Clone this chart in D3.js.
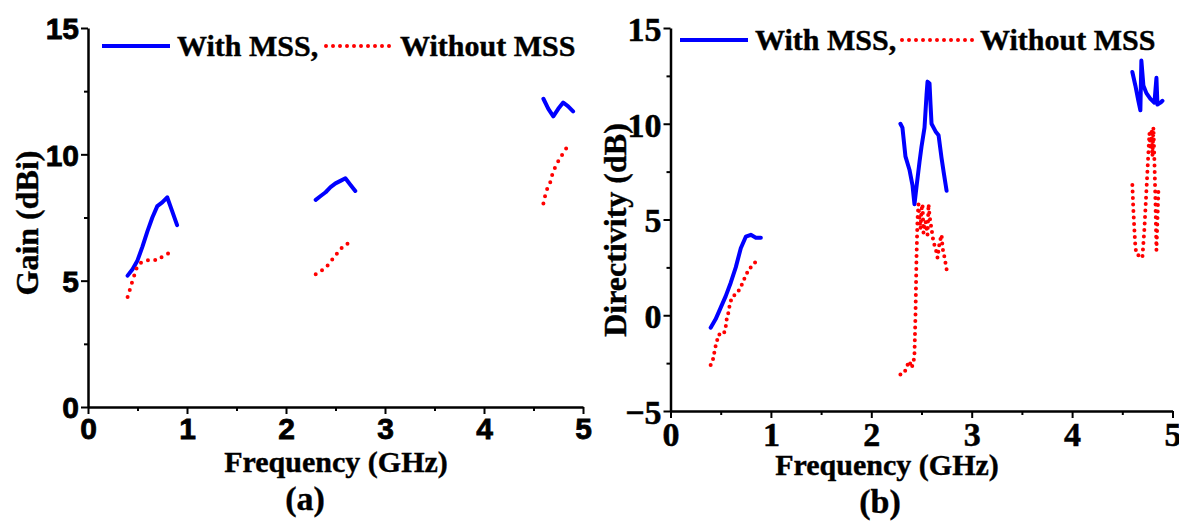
<!DOCTYPE html>
<html><head><meta charset="utf-8">
<script src="https://cdn.jsdelivr.net/npm/d3@7"></script>
<style>
html,body{margin:0;padding:0;background:#fff;}
svg{display:block;}
</style></head>
<body>
<svg id="chart" width="1179" height="522"></svg>
<script>
// ---------------- DATA ----------------
const freqTicks = [0, 1, 2, 3, 4, 5];
const freqMinorTicks = [0.5, 1.5, 2.5, 3.5, 4.5];
const gainTicks = [0, 5, 10, 15];
const gainMinorTicks = [2.5, 7.5, 12.5];
const dirTicks = [-5, 0, 5, 10, 15];
const dirMinorTicks = [-2.5, 2.5, 7.5, 12.5];
const legendLabels = ["With MSS,", "Without MSS"];
const panelLabels = ["(a)", "(b)"];

// Gain (dBi) with MSS — null separates bands
const gainWithFreq = [0.4,0.45,0.5,0.55,0.6,0.65,0.7,0.75,0.8,0.85,0.9, null,
  2.3,2.35,2.4,2.45,2.5,2.55,2.6,2.65,2.7, null,
  4.6,4.65,4.7,4.75,4.8,4.85,4.9];
const gainWithVals = [5.2,5.45,5.8,6.35,6.95,7.5,7.95,8.1,8.3,7.75,7.2, null,
  8.2,8.35,8.5,8.7,8.85,8.95,9.05,8.8,8.55, null,
  12.2,11.8,11.5,11.8,12.05,11.9,11.7];

// Gain (dBi) without MSS
const gainWithoutFreq = [0.4,0.45,0.5,0.55,0.6,0.65,0.7,0.75,0.8,0.85, null,
  2.3,2.4,2.45,2.5,2.55,2.6,2.67, null,
  4.6,4.62,4.64,4.67,4.69,4.72,4.76,4.8,4.85];
const gainWithoutVals = [4.35,5.0,5.6,5.75,5.8,5.85,5.8,5.95,6.05,6.2, null,
  5.25,5.5,5.75,6.0,6.25,6.45,6.5, null,
  8.05,8.4,8.65,8.9,9.2,9.5,9.8,10.05,10.35];

// Directivity (dB) with MSS
const dirWithFreq = [0.4,0.45,0.5,0.55,0.6,0.65,0.7,0.75,0.8,0.85,0.9, null,
  2.29,2.31,2.34,2.38,2.41,2.43,2.45,2.48,2.5,2.53,2.55,2.56,2.58,2.59,2.6,2.64,2.67,2.7,2.72,2.75, null,
  4.6,4.63,4.66,4.68,4.69,4.71,4.74,4.78,4.82,4.84,4.85,4.88,4.9];
const dirWithVals = [-0.65,-0.2,0.4,1.0,1.7,2.5,3.5,4.1,4.2,4.05,4.05, null,
  10.0,9.8,8.3,7.6,6.8,5.8,6.7,8.0,8.8,9.8,11.5,12.2,12.1,11.0,10.0,9.6,9.4,8.2,7.5,6.5, null,
  12.7,12.0,11.2,10.7,13.3,12.0,11.6,11.3,11.1,12.4,11.0,11.1,11.2];

// Directivity (dB) without MSS
const dirWithoutFreq = [0.4,0.43,0.44,0.46,0.48,0.53,0.55,0.56,0.58,0.59,0.61,0.68,0.72,0.75,0.79,0.86, null,
  2.29,2.33,2.36,2.38,2.4,2.42,2.43,2.44,2.45,2.46,2.47,2.48,2.49,2.5,2.51,2.52,2.54,2.56,2.57,2.58,2.6,2.62,2.64,2.66,2.68,2.7,2.71,2.73,2.75, null,
  4.6,4.61,4.62,4.63,4.64,4.7,4.72,4.74,4.76,4.77,4.78,4.79,4.8,4.81,4.82,4.83,4.84,4.85,4.86,4.88];
const dirWithoutVals = [-2.6,-2.2,-1.8,-1.4,-1.0,-1.0,-0.6,-0.2,0.2,0.55,0.9,1.3,1.7,2.1,2.45,2.85, null,
  -3.1,-3.0,-2.6,-2.4,-2.75,-2.5,-2.0,0,3.0,5.0,5.8,5.0,4.5,5.5,5.8,4.3,4.9,4.2,5.8,5.2,4.5,3.8,3.5,3.0,3.8,4.2,3.5,3.0,2.4, null,
  6.8,5.5,4.5,3.6,3.2,3.0,4.5,6.5,8.5,9.5,8.8,9.7,8.3,9.8,8.0,6.0,3.4,5.0,6.6,6.5];

// ---------------- DRAW ----------------
const svg = d3.select("#chart");
const BLUE = "#0000ff", RED = "#ff0000";
const serif = "'Liberation Serif','Times New Roman',serif";
const sans = "'Liberation Sans',Arial,sans-serif";

function zip(fx, fy){ return fx.map((f,i)=>({f:f, v:fy[i]})); }

function boldText(sel, family, size, extra){
  sel.style("font-family",family).style("font-weight","bold").style("font-size",size+"px")
     .attr("fill","#000");
  if (extra) sel.attr("stroke","#000").attr("stroke-width",extra);
  return sel;
}

function panel(cfg){
  const g = svg.append("g");
  const x = d3.scaleLinear().domain([0,5]).range(cfg.xr);
  const y = d3.scaleLinear().domain(cfg.yd).range(cfg.yr);

  // minor ticks
  g.append("g").attr("transform",`translate(0,${cfg.yr[0]})`)
    .call(d3.axisBottom(x).tickValues(freqMinorTicks).tickSize(4).tickSizeOuter(0).tickFormat(""))
    .call(a=>a.select(".domain").remove())
    .selectAll("line").attr("stroke","#000").attr("stroke-width",2);
  g.append("g").attr("transform",`translate(${cfg.xr[0]},0)`)
    .call(d3.axisLeft(y).tickValues(cfg.minor).tickSize(4).tickSizeOuter(0).tickFormat(""))
    .call(a=>a.select(".domain").remove())
    .selectAll("line").attr("stroke","#000").attr("stroke-width",2);

  const xa = g.append("g").attr("transform",`translate(0,${cfg.yr[0]})`)
    .call(d3.axisBottom(x).tickValues(freqTicks).tickSize(7).tickSizeOuter(0).tickPadding(cfg.xPad).tickFormat(d3.format("d")));
  const ya = g.append("g").attr("transform",`translate(${cfg.xr[0]},0)`)
    .call(d3.axisLeft(y).tickValues(cfg.ticks).tickSize(7).tickSizeOuter(0).tickPadding(2).tickFormat(d3.format("d")));
  [xa,ya].forEach(a=>{
    a.select(".domain").attr("stroke","#000").attr("stroke-width",2.5);
    a.selectAll(".tick line").attr("stroke","#000").attr("stroke-width",2);
    boldText(a.selectAll("text"), cfg.tickFont, cfg.tickSize, cfg.tickStroke);
  });
  ya.selectAll("text").attr("dy","0.36em");

  const line = d3.line().defined(d=>d.f!==null && d.v!==null).x(d=>x(d.f)).y(d=>y(d.v));
  g.append("path").datum(zip(cfg.withF,cfg.withV)).attr("d",line)
    .attr("fill","none").attr("stroke",BLUE).attr("stroke-width",4)
    .attr("stroke-linejoin","round").attr("stroke-linecap","round");
  g.append("path").datum(zip(cfg.woF,cfg.woV)).attr("d",line)
    .attr("fill","none").attr("stroke",RED).attr("stroke-width",4)
    .attr("stroke-dasharray",`0 ${cfg.dotGap}`).attr("stroke-linecap","round");

  // legend
  const L = cfg.legend;
  g.append("line").attr("x1",L.x1).attr("x2",L.x2).attr("y1",L.y).attr("y2",L.y)
    .attr("stroke",BLUE).attr("stroke-width",4);
  boldText(g.append("text").attr("x",L.t1).attr("y",L.y+10).text(legendLabels[0]), serif, 30, 0.4);
  g.append("line").attr("x1",L.x3).attr("x2",L.x4).attr("y1",L.y).attr("y2",L.y)
    .attr("stroke",RED).attr("stroke-width",4).attr("stroke-dasharray","0 7").attr("stroke-linecap","round");
  boldText(g.append("text").attr("x",L.t2).attr("y",L.y+10).text(legendLabels[1]), serif, 30, 0.4);

  // axis titles
  boldText(g.append("text").attr("x",cfg.xt[0]).attr("y",cfg.xt[1]).attr("text-anchor","middle")
    .text("Frequency (GHz)"), serif, 30, 0.4);
  boldText(g.append("text").attr("transform",`translate(${cfg.yt[0]},${cfg.yt[1]}) rotate(-90)`)
    .attr("text-anchor","middle").text(cfg.ytitle), serif, 32, 0.4);
  boldText(g.append("text").attr("x",cfg.pl[0]).attr("y",cfg.pl[1]).attr("text-anchor","middle")
    .text(cfg.plabel), serif, 34, 0.4);
}

panel({
  xr:[88,583], yd:[0,15], yr:[407,28], ticks:gainTicks, minor:gainMinorTicks,
  tickFont:sans, tickSize:30, tickStroke:0.8, xPad:4,
  withF:gainWithFreq, withV:gainWithVals, woF:gainWithoutFreq, woV:gainWithoutVals, dotGap:7.5,
  legend:{x1:102,x2:170,t1:177,x3:326,x4:396,t2:400,y:46},
  xt:[336,472], yt:[38,223], ytitle:"Gain (dBi)", pl:[305,510], plabel:panelLabels[0]
});
panel({
  xr:[670.5,1172.5], yd:[-5,15], yr:[411,28], ticks:dirTicks, minor:dirMinorTicks,
  tickFont:serif, tickSize:34, tickStroke:0.5, xPad:4,
  withF:dirWithFreq, withV:dirWithVals, woF:dirWithoutFreq, woV:dirWithoutVals, dotGap:6.5,
  legend:{x1:680,x2:748,t1:755,x3:902,x4:975,t2:980,y:40},
  xt:[887,475], yt:[626,230], ytitle:"Directivity (dB)", pl:[880,513], plabel:panelLabels[1]
});
</script>
</body></html>
